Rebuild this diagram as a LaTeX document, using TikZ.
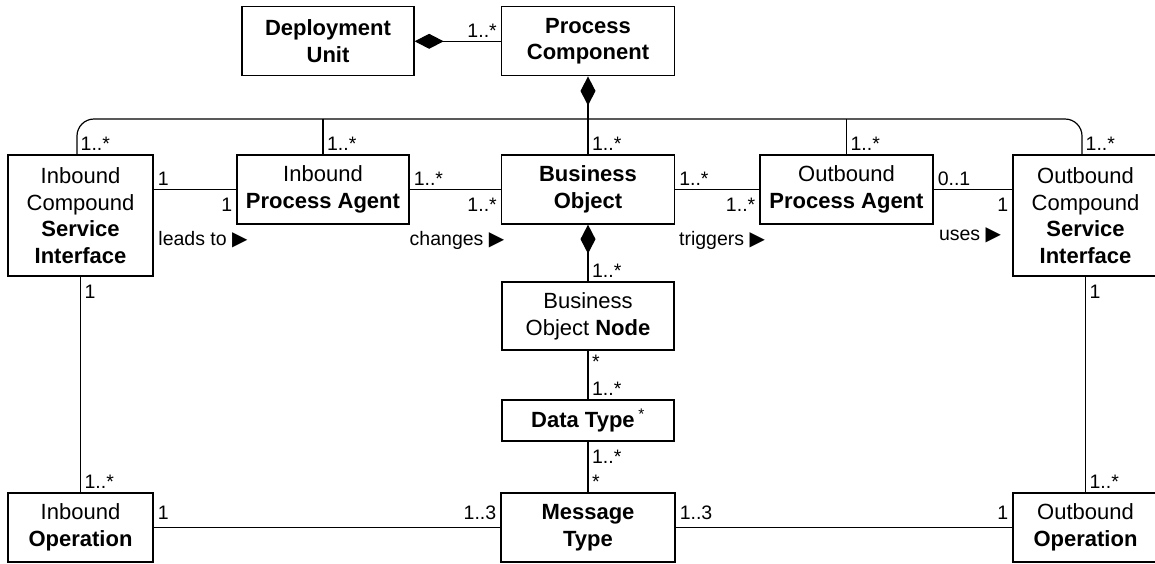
\documentclass[tikz,border=0pt]{standalone}
\usepackage{fontspec}
\setmainfont{Liberation Sans}
\newfontfamily\symfont{DejaVu Sans}
\usetikzlibrary{arrows.meta,positioning,calc}
\newcommand{\boxfont}{\fontsize{22}{26.7}\selectfont}
\newcommand{\multfont}{\fontsize{19.5}{22}\selectfont}
\newcommand{\dirtri}{{\symfont\fontsize{20}{20}\selectfont ▶}}
\tikzset{
	cls/.style={draw, line width=1.3pt, fill=white, align=center, font=\boxfont, inner sep=0pt, minimum height=69pt},
	mult/.style={font=\multfont, inner sep=3.5pt},
	multb/.style={mult, yshift=-4.5pt},
	multa/.style={mult, yshift=4pt},
	verb/.style={font=\multfont, inner sep=0pt},
	conn/.style={color=black, line width=1.2pt},
	comp/.style={{Diamond[length=29pt,width=15pt]}-, color=black, line width=1.2pt}
}
\begin{document}
\begin{tikzpicture}[x=1pt,y=-1pt]
	\path[use as bounding box] (0,0) rectangle (1155,563);
	\clip (0,0) rectangle (1155,563);
	%%% top row
	\node[cls, minimum width=172pt] (du) at (328,41.3) {\textbf{Deployment}\\\textbf{Unit}};
	\node[cls, minimum width=173pt] (pc) at (588,41.3) {\textbf{Process}\\\textbf{Component}};
	
	%%% middle row
	\node[cls, minimum width=145pt, minimum height=121pt] (icsi) at (80.5,215.5) {Inbound\\Compound\\\textbf{Service}\\\textbf{Interface}};
	\node[cls, minimum width=172pt] (ipa) at (323,189.5) {Inbound\\\textbf{Process Agent}};
	\node[cls, minimum width=173pt] (bo) at (588,189.5) {\textbf{Business}\\\textbf{Object}};
	\node[cls, minimum width=173pt] (opa) at (846.5,189.5) {Outbound\\\textbf{Process Agent}};
	\node[cls, minimum width=145pt, minimum height=121pt] (ocsi) at (1085.5,215.5) {Outbound\\Compound\\\textbf{Service}\\\textbf{Interface}};
	
	%%% BO node, data type
	\node[cls, minimum width=172pt, minimum height=68pt] (bon) at (588,316) {Business\\Object \textbf{Node}};
	\node[cls, minimum width=172pt, minimum height=41pt] (dt) at (588,420.5) {\textbf{Data Type}\,\textsuperscript{*}};
	
	%%% bottom row
	\node[cls, minimum width=145pt] (iop) at (80.5,527.5) {Inbound\\\textbf{Operation}};
	\node[cls, minimum width=174pt] (mt) at (588,527.5) {\textbf{Message}\\\textbf{Type}};
	\node[cls, minimum width=145pt] (oop) at (1085.5,527.5) {Outbound\\\textbf{Operation}};
	
	%%% composition bus
	\coordinate (bus) at (588,119);
	\draw[conn, rounded corners=17pt] ([xshift=-3.5pt]icsi.north) |- (bus) -| ([xshift=-3.5pt]ocsi.north);
	\draw[comp] (pc) -- (bus);
	\draw[conn] (ipa) -- node[mult, pos=0, anchor=south west] (mipa) {1..*} (ipa |- bus);
	\draw[conn] (bo) -- node[mult, pos=0, anchor=south west] (mbo) {1..*} (bus);
	\draw[conn] (opa) -- node[mult, pos=0, anchor=south west] (mopa) {1..*} (opa |- bus);
	\node[mult, anchor=south west] (micsi) at ([xshift=-3.5pt]icsi.north) {1..*};
	\node[mult, anchor=south west] (mocsi) at ([xshift=-3.5pt]ocsi.north) {1..*};
	
	\draw[comp] (du) -- node[mult, pos=1, anchor=south east] (mpc) {1..*} (pc);
	
	%%% middle associations
	\draw[conn] (ipa.west -| icsi.east) -- node[mult, pos=0, anchor=south west] (lt1) {1} node[multb, pos=1, anchor=north east] (lt2) {1} (ipa.west);
	\draw[conn] (ipa) -- node[mult, pos=0, anchor=south west] (ch1) {1..*} node[multb, pos=1, anchor=north east] (ch2) {1..*} (bo);
	\draw[conn] (bo) -- node[mult, pos=0, anchor=south west] (tr1) {1..*} node[multb, pos=1, anchor=north east] (tr2) {1..*} (opa);
	\draw[conn] (opa) -- node[mult, pos=0, anchor=south west] (us1) {0..1} node[multb, pos=1, anchor=north east] (us2) {1} (opa.east -| ocsi.west);
	
	\node[verb] (leads) at (203,240) {leads to \dirtri};
	\node[verb] (changes) at (457,240) {changes \dirtri};
	\node[verb] (triggers) at (722,240) {triggers \dirtri};
	\node[verb] (uses) at (970,235.5) {uses \dirtri};
	
	%%% down the middle
	\draw[comp] (bo) -- node[mult, pos=1, anchor=south west] (mbon) {1..*} (bon);
	\draw[conn] (bon) -- node[mult, pos=0, anchor=north west] (nd1) {*} node[mult, pos=1, anchor=south west] (nd2) {1..*} (dt);
	\draw[conn] (dt) -- node[multb, pos=0, anchor=north west] (dm1) {1..*} node[mult, pos=1, anchor=south west] (dm2) {*} (mt);
	
	%%% operations
	\draw[conn] (icsi) -- node[multb, pos=0, anchor=north west] (io1) {1} node[mult, pos=1, anchor=south west] (io2) {1..*} (iop);
	\draw[conn] (ocsi) -- node[multb, pos=0, anchor=north west] (oo1) {1} node[mult, pos=1, anchor=south west] (oo2) {1..*} (oop);
	\draw[conn] (iop) -- node[multa, pos=0, anchor=south west] (im1) {1} node[multa, pos=1, anchor=south east] (im2) {1..3} (mt);
	\draw[conn] (mt) -- node[multa, pos=0, anchor=south west] (om1) {1..3} node[multa, pos=1, anchor=south east] (om2) {1} (oop);
\end{tikzpicture}
\end{document}
